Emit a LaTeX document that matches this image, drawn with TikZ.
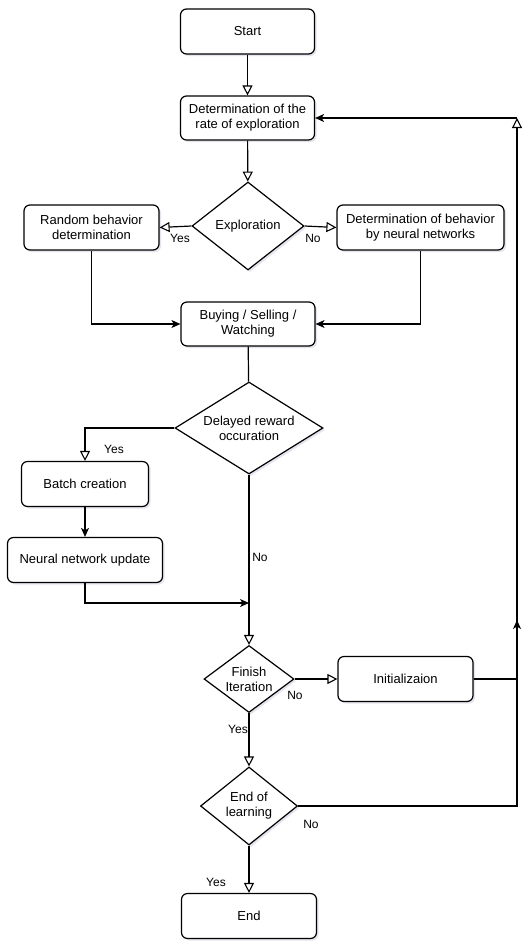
\documentclass[tikz,border=0pt]{standalone}
\usepackage{fontspec}
\setmainfont{Liberation Sans}
\usetikzlibrary{arrows.meta,shapes.geometric,positioning,shadows}
\tikzset{
	flow_node/.style = {align=center, draw=black, line width=1.2pt, fill=white, inner sep=0pt, font=\fontsize{13}{15}\selectfont,
		drop shadow={shadow xshift=2pt, shadow yshift=-2pt, fill=black!60!blue!30, opacity=0.35}},
	flow_box/.style = {flow_node, rectangle, rounded corners=6pt, minimum width=134pt, minimum height=45pt},
	flow_dec/.style = {flow_node, diamond},
	flow_lbl/.style = {inner sep=0pt, font=\fontsize{12}{14}\selectfont},
	open_arr/.style = {-{Triangle[open, length=10pt, width=10pt, line width=1.1pt]}},
	fill_arr/.style = {-{Stealth[length=9pt, width=8pt, inset=2.5pt]}}
}
\begin{document}
\begin{tikzpicture}[x=1pt, y=-1pt, line width=1.2pt]
	\path[fill=white, use as bounding box] (0,0) rectangle (532,948);
	% main column
	\node [flow_box] (start) at (247.5,31.5) {Start};
	\node [flow_box, minimum height=44pt] (rate) at (247.5,118) {Determination of the\\rate of exploration};
	\node [flow_dec, minimum width=112pt, minimum height=88pt, aspect=1.27] (explore) at (248,226) {Exploration};
	\node [flow_box, minimum width=135pt] (random) at (91.5,227.5) {Random behavior\\determination};
	\node [flow_box, minimum width=167pt] (nnbehav) at (420.5,227.5) {Determination of behavior\\by neural networks};
	\node [flow_box, minimum height=44pt] (buy) at (248,324) {Buying / Selling /\\Watching};
	\node [flow_dec, minimum width=148pt, minimum height=92pt, aspect=1.6] (delay) at (249,428) {Delayed reward\\occuration};
	\node [flow_box, minimum width=127pt] (batch) at (85,484) {Batch creation};
	\node [flow_box, minimum width=155pt] (nnupd) at (85,560) {Neural network update};
	\node [flow_dec, minimum width=90pt, minimum height=67pt, aspect=1.34] (finish) at (249,679) {Finish\\Iteration};
	\node [flow_box, minimum width=135pt] (init) at (405.5,679) {Initializaion};
	\node [flow_dec, minimum width=97pt, minimum height=78pt, aspect=1.24] (eol) at (249,806) {End of\\learning};
	\node [flow_box, minimum width=135pt] (finish_end) at (249,916) {End};
	\coordinate (merge) at (249,603);
	\coordinate (loop_top) at (517,118);
	\coordinate (loop_mid) at (517,620);

	% connectors
	\draw [open_arr] (start) -- (rate);
	\draw [open_arr] (rate) -- (explore);
	\draw [open_arr] (explore.west) -- (random.east);
	\draw [open_arr] (explore.east) -- (nnbehav.west);
	\draw [fill_arr] (random.south) |- (buy.west);
	\draw [fill_arr] (nnbehav.south) |- (buy.east);
	\draw (buy) -- (delay);
	\draw [open_arr] (delay.west) -| (batch.north);
	\draw [fill_arr] (batch) -- (nnupd);
	\draw [open_arr] (delay.south) -- (finish.north);
	\draw [fill_arr] (nnupd.south) |- (merge);
	\draw [open_arr] (finish.east) -- (init.west);
	\draw [open_arr] (finish.south) -- (eol.north);
	\draw [fill_arr] (init.east) -| (loop_mid);
	\draw [open_arr] (eol.east) -| (loop_top);
	\draw [fill_arr] (loop_top) -- (rate.east);
	\draw [open_arr] (eol.south) -- (finish_end.north);

	% labels
	\node [flow_lbl] (lbl_yes1) at (180,238) {Yes};
	\node [flow_lbl] (lbl_no1) at (313,238) {No};
	\node [flow_lbl] (lbl_yes2) at (114,449) {Yes};
	\node [flow_lbl] (lbl_no2) at (260,557) {No};
	\node [flow_lbl] (lbl_no3) at (295,695) {No};
	\node [flow_lbl] (lbl_yes3) at (238,729) {Yes};
	\node [flow_lbl] (lbl_no4) at (311,824) {No};
	\node [flow_lbl] (lbl_yes4) at (216,882) {Yes};
\end{tikzpicture}
\end{document}
